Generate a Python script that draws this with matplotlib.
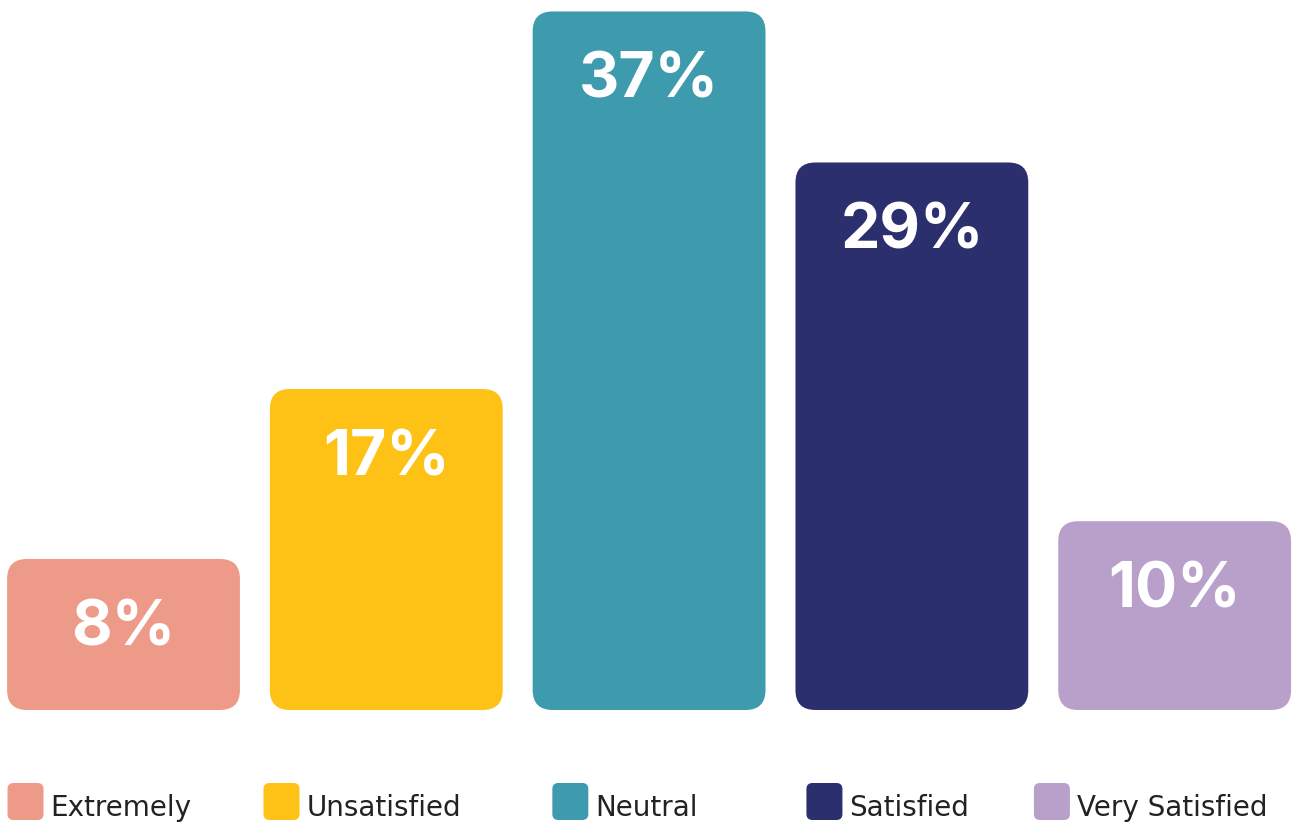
import matplotlib
matplotlib.use("Agg")
import matplotlib.pyplot as plt
from matplotlib.patches import FancyBboxPatch
from matplotlib.transforms import IdentityTransform

categories = ["Extremely", "Unsatisfied", "Neutral", "Satisfied", "Very Satisfied"]
values = [8, 17, 37, 29, 10]
colors = ["#ED9B88", "#FEC217", "#3E9BAE", "#2C2F6E", "#B8A0CB"]

plt.rcParams["font.family"] = ["Inter", "DejaVu Sans"]

W, H = 1305, 823
fig = plt.figure(figsize=(W / 100, H / 100), dpi=100)
ax = fig.add_axes([0, 113 / H, 1, 708 / H])
ax.set_xlim(-0.47, 4.496)
ax.set_ylim(0, 37.5)
ax.axis("off")

bar_w = 0.886
# pixels per data unit, used to keep the corner rounding circular
px_x = W / (4.496 + 0.47)
px_y = 708 / 37.5
radius_px = 20

for i, (v, c) in enumerate(zip(values, colors)):
    box = FancyBboxPatch((i - bar_w / 2, 0), bar_w, v,
                         boxstyle=f"round,pad=0,rounding_size={radius_px / px_x}",
                         mutation_aspect=px_x / px_y,
                         facecolor=c, edgecolor="none")
    ax.add_patch(box)
    ax.annotate(f"{v}%", (i, v), xytext=(0, -70), textcoords="offset pixels",
                ha="center", va="center", color="white",
                fontsize=45, fontweight="bold", family="Inter")

# legend row, each entry centred a little left of its bar
legend_texts = []
for cat in categories:
    legend_texts.append(fig.text(0, 0, cat, fontsize=20, color="#222222",
                                 family="DejaVu Sans", ha="left", va="baseline",
                                 transform=IdentityTransform()))
renderer = fig.canvas.get_renderer()
sq = 36
gap = 7
y_sq = H - 820
for i, (t, c) in enumerate(zip(legend_texts, colors)):
    cx = ax.transData.transform((i, 0))[0] - 24
    tw = t.get_window_extent(renderer).width
    left = cx - (sq + gap + tw) / 2
    left = min(max(left, 7), W - 12 - sq - gap - tw)
    square = FancyBboxPatch((left, y_sq), sq, sq + 1,
                            boxstyle="round,pad=0,rounding_size=6",
                            facecolor=c, edgecolor="none",
                            transform=IdentityTransform())
    fig.add_artist(square)
    t.set_position((left + sq + gap, H - 816))

fig.savefig("out.png", dpi=100)
